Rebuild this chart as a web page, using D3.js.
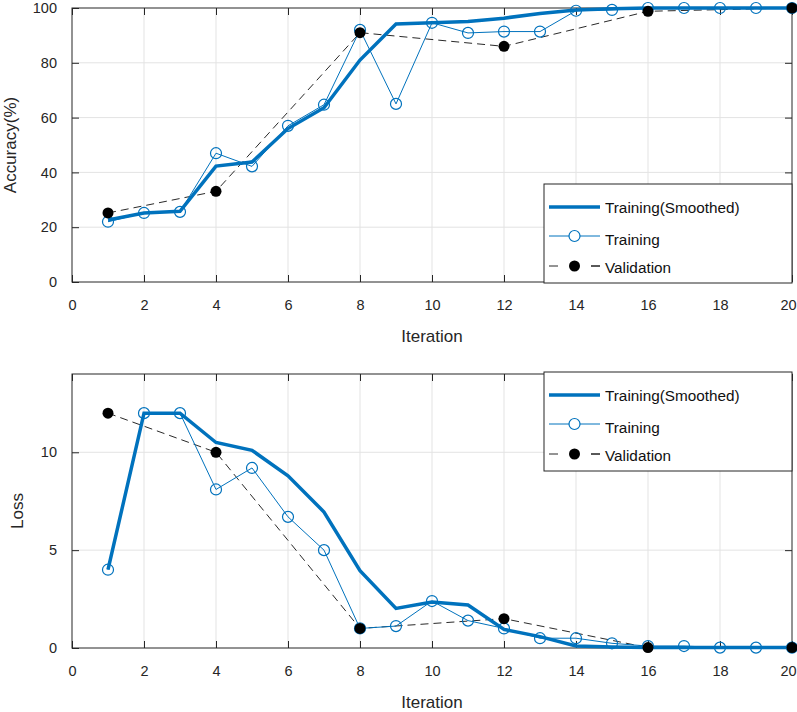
<!DOCTYPE html>
<html><head><meta charset="utf-8">
<script src="https://cdn.jsdelivr.net/npm/d3@7"></script>
<style>body{margin:0;background:#fff;} svg{display:block;font-family:"Liberation Sans",Arial,sans-serif;}</style>
</head><body>
<svg id="c" width="797" height="712"></svg>
<script>
const iterations = d3.range(1, 21);
const accTraining = [22, 25.2, 25.6, 47, 42.2, 57, 64.7, 92, 65, 94.6, 90.9, 91.4, 91.4, 99, 99.3, 100, 100, 100, 100, 100];
const accSmoothed = [22.6, 25.2, 25.8, 42.3, 43.8, 56, 63.6, 81, 94.2, 94.6, 95.1, 96.3, 98, 99.3, 99.7, 100, 100, 100, 100, 100];
const valIterations = [1, 4, 8, 12, 16, 20];
const accValidation = [25.2, 33.1, 91, 86, 98.8, 100];
const lossTraining = [4.0, 12.0, 12.0, 8.1, 9.2, 6.7, 5.0, 1.0, 1.12, 2.4, 1.4, 1.0, 0.5, 0.5, 0.24, 0.1, 0.1, 0.02, 0.02, 0.02];
const lossSmoothed = [4.0, 12.0, 12.0, 10.5, 10.1, 8.8, 6.95, 3.95, 2.02, 2.35, 2.2, 0.95, 0.58, 0.1, 0.05, 0.02, 0.02, 0.02, 0.02, 0.02];
const lossValidation = [12.0, 10.0, 1.0, 1.5, 0.02, 0.02];
const xTicks = [0, 2, 4, 6, 8, 10, 12, 14, 16, 18, 20];
const accTicks = [0, 20, 40, 60, 80, 100];
const lossTicks = [0, 5, 10];
const legendLabels = ["Training(Smoothed)", "Training", "Validation"];

const BLUE = "#0072BD";
const svg = d3.select("#c");

function panel(opts) {
  const {top, bottom, left, right, yDomain, yTicks, yLabel, training, smoothed, validation, legendY} = opts;
  const x = d3.scaleLinear().domain([0, 20]).range([left, right]);
  const y = d3.scaleLinear().domain(yDomain).range([bottom, top]);
  const g = svg.append("g");
  // grid
  g.selectAll(".gx").data(xTicks.slice(1, -1)).enter().append("line")
    .attr("x1", d => x(d)).attr("x2", d => x(d)).attr("y1", top).attr("y2", bottom)
    .attr("stroke", "#e3e3e3").attr("stroke-width", 1);
  g.selectAll(".gy").data(yTicks.filter(d => d > yDomain[0] && d < yDomain[1])).enter().append("line")
    .attr("x1", left).attr("x2", right).attr("y1", d => y(d)).attr("y2", d => y(d))
    .attr("stroke", "#e3e3e3").attr("stroke-width", 1);
  // axes
  const ax = g.append("g").attr("transform", `translate(0,${bottom})`)
    .call(d3.axisBottom(x).tickValues(xTicks).tickSize(-7).tickPadding(18).tickFormat(d3.format("d")));
  const ay = g.append("g").attr("transform", `translate(${left},0)`)
    .call(d3.axisLeft(y).tickValues(yTicks).tickSize(-7).tickPadding(15).tickFormat(d3.format("d")));
  const axTop = g.append("g").attr("transform", `translate(0,${top})`)
    .call(d3.axisTop(x).tickValues(xTicks).tickSize(-7).tickFormat(""));
  const ayR = g.append("g").attr("transform", `translate(${right},0)`)
    .call(d3.axisRight(y).tickValues(yTicks).tickSize(-7).tickFormat(""));
  [ax, ay, axTop, ayR].forEach(a => {
    a.select(".domain").attr("stroke", "#262626").attr("stroke-width", 1).attr("d", null);
    a.selectAll(".tick line").attr("stroke", "#262626");
    a.selectAll("text").attr("fill", "#262626").style("font-size", "14.5px").style("font-family", "Liberation Sans, Arial, sans-serif");
  });
  ax.selectAll(".tick text").filter(d => d === 20).attr("dx", "-4");
  g.append("rect").attr("x", left).attr("y", top).attr("width", right - left).attr("height", bottom - top)
    .attr("fill", "none").attr("stroke", "#262626").attr("stroke-width", 1);
  // labels
  g.append("text").attr("x", (left + right) / 2).attr("y", bottom + 60).attr("text-anchor", "middle")
    .style("font-size", "17px").attr("fill", "#262626").text("Iteration");
  g.append("text").attr("transform", `translate(${opts.yLabelX},${(top + bottom) / 2}) rotate(-90)`)
    .attr("text-anchor", "middle").style("font-size", "17px").attr("fill", "#262626").text(yLabel);

  const line = d3.line().x(d => x(d[0])).y(d => y(d[1]));
  const clip = "clip" + top;
  g.append("clipPath").attr("id", clip).append("rect").attr("x", left - 10).attr("y", top - 10).attr("width", right - left + 20).attr("height", bottom - top + 20);
  const data = g.append("g").attr("clip-path", `url(#${clip})`);
  // validation
  const vPts = valIterations.map((it, i) => [it, validation[i]]);
  data.append("path").attr("d", line(vPts)).attr("fill", "none").attr("stroke", "#111").attr("stroke-width", 0.9).attr("stroke-dasharray", "8,5");
  // training
  const tPts = iterations.map((it, i) => [it, training[i]]);
  data.append("path").attr("d", line(tPts)).attr("fill", "none").attr("stroke", BLUE).attr("stroke-width", 1);
  // smoothed
  const sPts = iterations.map((it, i) => [it, smoothed[i]]);
  data.append("path").attr("d", line(sPts)).attr("fill", "none").attr("stroke", BLUE).attr("stroke-width", 3.5).attr("stroke-linejoin", "miter");
  data.selectAll(".tc").data(tPts).enter().append("circle")
    .attr("cx", d => x(d[0])).attr("cy", d => y(d[1])).attr("r", 5.5)
    .attr("fill", "none").attr("stroke", BLUE).attr("stroke-width", 1.2);
  data.selectAll(".vc").data(vPts).enter().append("circle")
    .attr("cx", d => x(d[0])).attr("cy", d => y(d[1])).attr("r", 5.5).attr("fill", "#000");

  // legend
  const lg = g.append("g");
  lg.append("rect").attr("x", 544).attr("y", legendY).attr("width", 248).attr("height", 99)
    .attr("fill", "#fff").attr("stroke", "#262626").attr("stroke-width", 1);
  const rows = [legendY + 23, legendY + 55, legendY + 83];
  lg.append("line").attr("x1", 549).attr("x2", 600).attr("y1", rows[0]).attr("y2", rows[0]).attr("stroke", BLUE).attr("stroke-width", 3.5);
  lg.append("line").attr("x1", 549).attr("x2", 600).attr("y1", rows[1] - 3).attr("y2", rows[1] - 3).attr("stroke", BLUE).attr("stroke-width", 1);
  lg.append("circle").attr("cx", 574.5).attr("cy", rows[1] - 3).attr("r", 5.5).attr("fill", "#fff").attr("stroke", BLUE).attr("stroke-width", 1.2);
  lg.append("line").attr("x1", 549).attr("x2", 600).attr("y1", rows[2] - 1).attr("y2", rows[2] - 1).attr("stroke", "#111").attr("stroke-width", 0.9).attr("stroke-dasharray", "9,33");
  lg.append("line").attr("x1", 591).attr("x2", 600).attr("y1", rows[2] - 1).attr("y2", rows[2] - 1).attr("stroke", "#111").attr("stroke-width", 0.9);
  lg.append("circle").attr("cx", 574.5).attr("cy", rows[2] - 1).attr("r", 5.5).attr("fill", "#000");
  legendLabels.forEach((t, i) => {
    lg.append("text").attr("x", 605).attr("y", rows[i] + 6).style("font-size", "15.3px").attr("fill", "#111").text(t);
  });
}

panel({top: 8, bottom: 282, left: 72, right: 792, yDomain: [0, 100], yTicks: accTicks, yLabel: "Accuracy(%)", yLabelX: 16,
  training: accTraining, smoothed: accSmoothed, validation: accValidation, legendY: 184});
panel({top: 374, bottom: 648, left: 72, right: 792, yDomain: [0, 14], yTicks: lossTicks, yLabel: "Loss", yLabelX: 23,
  training: lossTraining, smoothed: lossSmoothed, validation: lossValidation, legendY: 372});
</script>
</body></html>
